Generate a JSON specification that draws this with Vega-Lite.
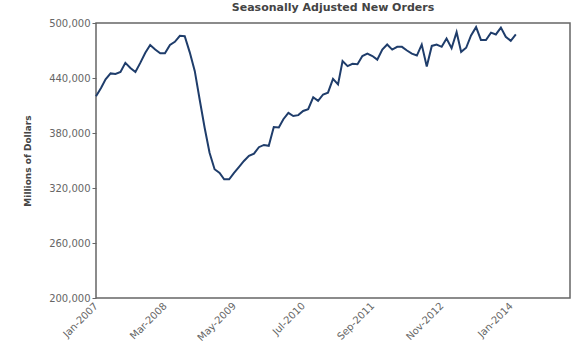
{
  "$schema": "https://vega.github.io/schema/vega-lite/v6.json",
  "autosize": {"type": "none"},
  "width": 474,
  "height": 275,
  "padding": {"left": 96, "top": 23, "right": 10, "bottom": 57},
  "background": "white",
  "config": {
    "font": "DejaVu Sans",
    "view": {"stroke": "#666666", "strokeWidth": 1.5}
  },
  "title": {
    "text": "Seasonally Adjusted New Orders",
    "fontSize": 11,
    "fontWeight": "bold",
    "color": "#444444",
    "anchor": "middle",
    "offset": 5
  },
  "data": {
    "values": [
      {"date": "2007-01-01", "value": 420000},
      {"date": "2007-02-01", "value": 429000},
      {"date": "2007-03-01", "value": 438500},
      {"date": "2007-04-01", "value": 445000},
      {"date": "2007-05-01", "value": 444500},
      {"date": "2007-06-01", "value": 446500},
      {"date": "2007-07-01", "value": 456500},
      {"date": "2007-08-01", "value": 451000},
      {"date": "2007-09-01", "value": 446500},
      {"date": "2007-10-01", "value": 456500},
      {"date": "2007-11-01", "value": 467500},
      {"date": "2007-12-01", "value": 476000},
      {"date": "2008-01-01", "value": 471000},
      {"date": "2008-02-01", "value": 467000},
      {"date": "2008-03-01", "value": 467000},
      {"date": "2008-04-01", "value": 476000},
      {"date": "2008-05-01", "value": 479500},
      {"date": "2008-06-01", "value": 486000},
      {"date": "2008-07-01", "value": 485500},
      {"date": "2008-08-01", "value": 468000},
      {"date": "2008-09-01", "value": 447500},
      {"date": "2008-10-01", "value": 416500},
      {"date": "2008-11-01", "value": 385500},
      {"date": "2008-12-01", "value": 358500},
      {"date": "2009-01-01", "value": 340500},
      {"date": "2009-02-01", "value": 336500},
      {"date": "2009-03-01", "value": 329500},
      {"date": "2009-04-01", "value": 329500},
      {"date": "2009-05-01", "value": 336500},
      {"date": "2009-06-01", "value": 343000},
      {"date": "2009-07-01", "value": 349500},
      {"date": "2009-08-01", "value": 355000},
      {"date": "2009-09-01", "value": 357500},
      {"date": "2009-10-01", "value": 364500},
      {"date": "2009-11-01", "value": 367000},
      {"date": "2009-12-01", "value": 366000},
      {"date": "2010-01-01", "value": 386500},
      {"date": "2010-02-01", "value": 386000},
      {"date": "2010-03-01", "value": 395000},
      {"date": "2010-04-01", "value": 402000},
      {"date": "2010-05-01", "value": 398500},
      {"date": "2010-06-01", "value": 399500},
      {"date": "2010-07-01", "value": 404000},
      {"date": "2010-08-01", "value": 406000},
      {"date": "2010-09-01", "value": 419000},
      {"date": "2010-10-01", "value": 415000},
      {"date": "2010-11-01", "value": 422000},
      {"date": "2010-12-01", "value": 424000},
      {"date": "2011-01-01", "value": 439000},
      {"date": "2011-02-01", "value": 433000},
      {"date": "2011-03-01", "value": 458500},
      {"date": "2011-04-01", "value": 453000},
      {"date": "2011-05-01", "value": 455500},
      {"date": "2011-06-01", "value": 455000},
      {"date": "2011-07-01", "value": 464000},
      {"date": "2011-08-01", "value": 466500},
      {"date": "2011-09-01", "value": 464000},
      {"date": "2011-10-01", "value": 460000},
      {"date": "2011-11-01", "value": 471000},
      {"date": "2011-12-01", "value": 476500},
      {"date": "2012-01-01", "value": 471000},
      {"date": "2012-02-01", "value": 474000},
      {"date": "2012-03-01", "value": 474000},
      {"date": "2012-04-01", "value": 470000},
      {"date": "2012-05-01", "value": 466500},
      {"date": "2012-06-01", "value": 464500},
      {"date": "2012-07-01", "value": 476500},
      {"date": "2012-08-01", "value": 452500},
      {"date": "2012-09-01", "value": 475000},
      {"date": "2012-10-01", "value": 476500},
      {"date": "2012-11-01", "value": 474000},
      {"date": "2012-12-01", "value": 483000},
      {"date": "2013-01-01", "value": 472500},
      {"date": "2013-02-01", "value": 490000},
      {"date": "2013-03-01", "value": 468500},
      {"date": "2013-04-01", "value": 473000},
      {"date": "2013-05-01", "value": 486500},
      {"date": "2013-06-01", "value": 495500},
      {"date": "2013-07-01", "value": 481500},
      {"date": "2013-08-01", "value": 481500},
      {"date": "2013-09-01", "value": 489500},
      {"date": "2013-10-01", "value": 487500},
      {"date": "2013-11-01", "value": 495000},
      {"date": "2013-12-01", "value": 485000},
      {"date": "2014-01-01", "value": 480500},
      {"date": "2014-02-01", "value": 487500}
    ]
  },
  "mark": {"type": "line", "color": "#1f3d6b", "strokeWidth": 2},
  "encoding": {
    "x": {
      "field": "date",
      "type": "temporal",
      "scale": {"type": "utc", "domain": ["2007-01-01", "2015-01-01"], "nice": false},
      "axis": {
        "title": null,
        "labelExpr": "utcFormat(datum.value, '%b-%Y')",
        "values": [
          {"year": 2007, "month": 1, "date": 1, "utc": true},
          {"year": 2008, "month": 3, "date": 1, "utc": true},
          {"year": 2009, "month": 5, "date": 1, "utc": true},
          {"year": 2010, "month": 7, "date": 1, "utc": true},
          {"year": 2011, "month": 9, "date": 1, "utc": true},
          {"year": 2012, "month": 11, "date": 1, "utc": true},
          {"year": 2014, "month": 1, "date": 1, "utc": true}
        ],
        "labelAngle": -45,
        "labelAlign": "right",
        "labelBaseline": "middle",
        "labelFontSize": 10,
        "labelColor": "#666666",
        "labelPadding": 6,
        "ticks": false,
        "domain": false,
        "grid": false,
        "labelFlush": false,
        "labelOverlap": false
      }
    },
    "y": {
      "field": "value",
      "type": "quantitative",
      "scale": {"domain": [200000, 500000], "nice": false, "zero": false},
      "axis": {
        "title": "Millions of Dollars",
        "titleFontSize": 9,
        "titleFontWeight": "bold",
        "titleColor": "#444444",
        "titlePadding": 16,
        "values": [200000, 260000, 320000, 380000, 440000, 500000],
        "format": ",d",
        "labelFontSize": 10,
        "labelColor": "#666666",
        "labelPadding": 2,
        "tickSize": 4,
        "tickColor": "#666666",
        "domain": false,
        "grid": false
      }
    }
  }
}
